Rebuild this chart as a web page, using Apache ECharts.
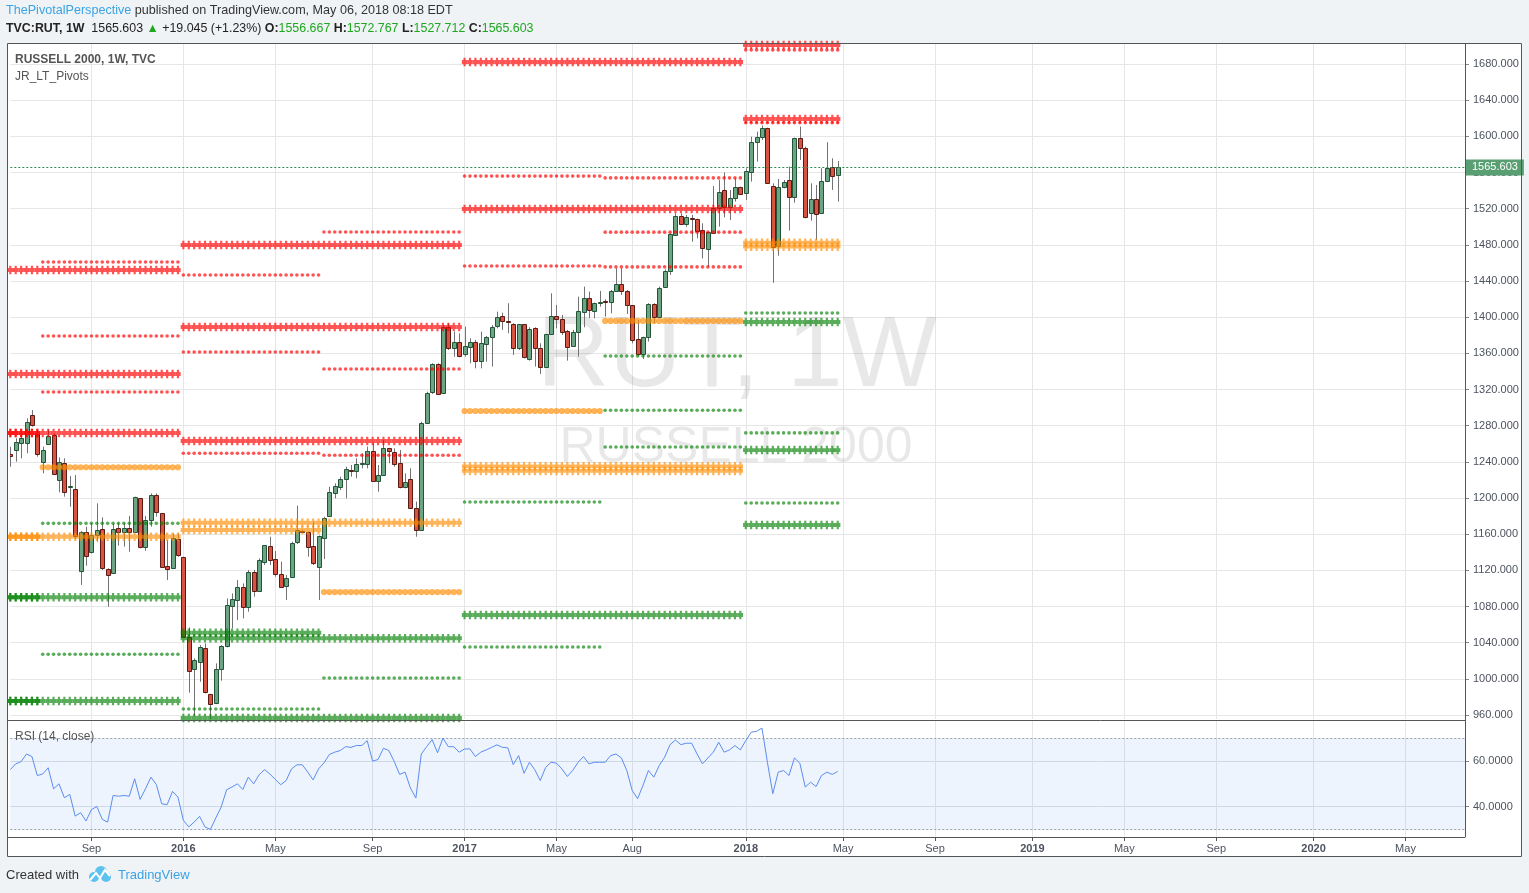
<!DOCTYPE html>
<html><head><meta charset="utf-8">
<script src="https://cdn.jsdelivr.net/npm/echarts@6/dist/echarts.min.js"></script>
<style>html,body{margin:0;padding:0;background:#f0f3f6;}#c{width:1529px;height:893px;}</style>
</head><body><div id="c"></div><script>
// ---------- DATA ----------
const firstWeek = '2015-05-25';
const totalWeeks = 270; // axis runs into mid-2020
const timeTicks = [['2015-09-07','Sep'],['2016-01-04','2016'],['2016-05-02','May'],['2016-09-05','Sep'],['2017-01-02','2017'],['2017-05-01','May'],['2017-08-07','Aug'],['2018-01-01','2018'],['2018-05-07','May'],['2018-09-03','Sep'],['2019-01-07','2019'],['2019-05-06','May'],['2019-09-02','Sep'],['2020-01-06','2020'],['2020-05-04','May']];
const priceTicks = [960,1000,1040,1080,1120,1160,1200,1240,1280,1320,1360,1400,1440,1480,1520,1560,1600,1640,1680];
const rsiTicks = [40,60];

const opens = [1248.6,1253.1,1260.5,1260.5,1291.8,1270.8,1239.4,1259.3,1269.3,1219.9,1238.3,1212.5,1209.6,1119.6,1162.0,1139.9,1158.7,1165.3,1121.8,1116.7,1166.4,1162.0,1166.4,1162.0,1199.6,1146.2,1175.3,1202.9,1183.0,1124.4,1122.2,1154.3,1134.4,1046.6,1010.5,1019.0,1033.7,982.8,972.9,1010.5,1036.7,1080.9,1087.2,1101.9,1079.8,1117.8,1097.5,1129.6,1146.9,1132.1,1115.6,1103.0,1113.0,1151.0,1163.8,1162.7,1146.9,1124.0,1155.4,1180.1,1205.9,1212.5,1220.7,1231.3,1230.2,1237.6,1237.6,1252.4,1219.2,1225.4,1254.9,1251.3,1239.1,1212.5,1220.7,1188.6,1164.6,1283.3,1317.6,1347.8,1315.8,1388.8,1365.5,1372.2,1358.9,1367.4,1372.2,1351.9,1370.0,1378.4,1390.2,1401.0,1395.4,1392.5,1365.6,1392.1,1353.4,1387.7,1365.6,1345.3,1381.1,1401.7,1397.6,1384.4,1368.5,1383.3,1406.1,1421.6,1407.2,1416.1,1417.6,1416.5,1429.4,1436.4,1429.4,1413.1,1375.5,1358.9,1378.5,1414.2,1400.6,1433.1,1451.4,1491.2,1511.9,1503.4,1510.0,1508.2,1496.0,1475.0,1493.4,1520.3,1540.3,1522.2,1531.4,1543.6,1536.9,1560.2,1593.4,1598.9,1608.9,1545.5,1479.1,1543.6,1551.4,1532.5,1597.8,1586.7,1514.9,1530.7,1514.9,1551.0,1565.7,1556.667];
const highs = [1256.8,1266.0,1271.5,1288.1,1297.3,1275.2,1256.8,1275.9,1271.5,1245.0,1243.9,1224.3,1225.4,1163.5,1168.3,1172.0,1194.1,1178.6,1122.2,1172.0,1172.0,1172.0,1180.1,1201.5,1200.0,1180.1,1205.1,1205.1,1183.5,1153.5,1160.9,1160.9,1135.1,1056.9,1022.7,1037.4,1039.2,983.5,1017.1,1037.4,1089.0,1094.5,1109.3,1105.6,1120.4,1120.4,1133.3,1148.0,1157.2,1141.4,1129.6,1114.8,1151.7,1191.5,1165.0,1163.0,1173.8,1158.5,1179.3,1212.5,1216.2,1223.6,1234.7,1236.5,1243.9,1249.4,1256.8,1261.2,1236.5,1264.2,1255.5,1254.9,1253.1,1227.3,1232.8,1196.0,1284.4,1317.6,1349.0,1349.0,1391.3,1393.2,1384.0,1382.1,1389.5,1376.6,1374.8,1384.0,1379.2,1391.3,1406.1,1405.0,1415.4,1393.2,1392.5,1392.5,1388.8,1388.8,1371.1,1381.5,1426.4,1413.5,1402.5,1385.9,1385.9,1422.7,1433.8,1428.3,1416.1,1429.0,1419.8,1430.1,1454.0,1454.0,1430.1,1413.5,1396.9,1378.5,1415.4,1415.4,1433.8,1453.0,1492.7,1514.8,1514.8,1513.0,1513.0,1508.9,1503.8,1494.5,1545.0,1551.7,1560.2,1540.6,1553.5,1544.3,1564.6,1599.6,1605.2,1612.0,1609.5,1548.0,1552.8,1551.7,1566.5,1598.5,1610.7,1588.6,1548.0,1546.2,1564.6,1593.4,1575.7,1572.767];
const lows = [1234.6,1240.2,1243.9,1249.4,1278.9,1245.7,1227.3,1258.6,1225.4,1206.3,1201.5,1190.4,1154.3,1103.8,1125.1,1138.8,1151.7,1120.3,1079.8,1116.0,1147.3,1146.2,1140.6,1161.6,1144.3,1141.7,1168.3,1179.3,1122.9,1109.3,1121.5,1135.1,1045.9,984.7,958.9,996.8,983.9,954.4,972.0,998.0,1034.8,1055.8,1065.1,1066.9,1074.3,1090.9,1097.0,1125.9,1125.9,1113.0,1101.5,1087.2,1112.2,1149.1,1162.0,1135.1,1125.9,1087.2,1132.5,1179.5,1199.6,1208.9,1199.6,1223.6,1221.8,1232.8,1232.8,1219.0,1207.0,1225.0,1238.4,1234.7,1210.7,1210.7,1188.0,1157.2,1163.9,1283.0,1315.0,1313.9,1315.5,1363.7,1356.3,1355.6,1356.3,1349.0,1343.4,1343.4,1350.8,1345.3,1387.7,1385.9,1382.2,1358.2,1363.7,1354.5,1351.9,1345.3,1337.2,1345.0,1380.3,1387.7,1380.3,1351.9,1367.4,1356.4,1388.8,1398.8,1398.8,1411.7,1400.6,1404.3,1429.0,1424.6,1403.6,1371.1,1356.4,1353.8,1373.0,1393.2,1400.0,1432.6,1446.6,1489.7,1501.9,1500.0,1483.5,1487.2,1465.0,1455.8,1493.0,1500.1,1510.4,1507.4,1527.7,1535.1,1529.6,1549.9,1572.0,1596.0,1547.3,1438.0,1468.0,1542.5,1495.7,1526.6,1573.8,1509.3,1506.7,1485.4,1514.1,1550.5,1540.7,1527.712];
const closes = [1246.8,1261.6,1266.0,1284.4,1280.7,1248.6,1253.1,1268.6,1226.2,1239.4,1207.0,1213.3,1158.0,1162.7,1136.2,1158.7,1164.2,1122.9,1114.5,1165.3,1162.7,1166.4,1162.0,1200.7,1146.2,1175.3,1202.9,1184.1,1124.0,1121.1,1155.4,1136.9,1046.6,1008.6,1020.4,1035.6,985.8,972.1,1010.5,1036.7,1082.0,1087.9,1101.9,1079.8,1117.8,1097.5,1131.4,1147.6,1131.4,1115.6,1101.9,1111.9,1150.6,1164.2,1163.5,1145.4,1127.7,1157.6,1177.9,1206.3,1213.3,1221.0,1231.7,1230.6,1237.2,1238.4,1252.4,1219.2,1225.1,1254.9,1252.4,1237.2,1212.5,1218.1,1188.6,1164.6,1282.6,1315.8,1347.8,1314.7,1388.8,1365.5,1372.2,1357.4,1368.1,1372.2,1351.9,1371.1,1378.4,1389.5,1400.6,1395.8,1394.7,1365.6,1392.1,1355.6,1386.6,1365.6,1345.3,1381.1,1401.0,1397.6,1383.3,1367.4,1383.3,1406.9,1421.6,1408.0,1415.4,1416.8,1416.8,1429.4,1436.4,1429.4,1413.5,1374.8,1358.9,1377.7,1414.2,1399.9,1431.9,1451.5,1492.0,1511.9,1503.0,1510.4,1509.7,1495.6,1476.1,1494.2,1520.3,1538.0,1522.2,1531.4,1543.6,1535.8,1561.6,1593.4,1598.9,1608.9,1548.0,1478.0,1544.3,1549.9,1533.3,1597.8,1586.7,1510.4,1530.7,1513.7,1550.2,1564.6,1556.5,1565.603];
const rsi = [56.2,58.7,59.7,63.0,61.9,53.6,54.3,57.0,47.8,50.0,
43.9,45.4,35.9,37.4,33.8,38.7,40.1,34.5,33.3,44.9,
44.6,44.9,44.6,52.2,43.2,47.8,52.9,49.7,41.3,40.9,
46.7,44.2,34.1,31.2,33.3,35.8,31.2,30.1,35.1,39.9,
47.4,48.6,50.0,47.5,52.9,50.0,53.9,56.2,54.3,51.9,
49.6,51.4,56.5,58.3,58.3,55.1,51.7,56.5,59.1,62.8,
63.8,64.5,66.2,65.9,66.7,66.7,68.8,59.9,60.6,65.5,
64.5,59.7,54.1,55.1,48.1,43.8,63.0,66.2,69.3,63.5,
69.9,66.2,66.2,63.8,65.2,65.2,61.9,63.8,64.8,65.9,
67.0,65.9,65.7,58.4,62.3,54.6,59.4,56.1,51.4,57.2,
59.4,59.0,56.5,53.2,55.8,59.4,61.9,58.7,59.4,59.4,
59.4,62.3,63.0,61.3,55.8,47.1,43.5,49.3,55.8,52.9,
58.0,61.6,67.1,69.1,67.1,67.7,67.7,63.0,58.7,61.3,
63.8,68.1,63.8,64.8,66.7,64.8,68.8,72.5,72.9,74.3,
59.4,45.7,55.1,55.8,53.6,61.3,59.0,48.6,50.7,48.8,
53.6,55.1,54.1,55.4];
const lastPrice = 1565.603;

// yearly pivots
const yearlyPeriods = [['2015-05-25','2015-12-28'],['2016-01-04','2016-12-26'],['2017-01-02','2017-12-25'],['2018-01-01','2018-04-30']];
const yearlyR = [[1452.2,1337.2,1271.9],[1479.8,1389.1,1263.0],[1682.2,1519.6],[1701.0,1619.2]];
const yearlyP = [[1157.2],[1172.7],[1235.0,1230.0],[1478.0]];
const yearlyS = [[1090.2,975.5],[1044.9,956.7],[1070.6],[1394.7,1253.0,1170.2]];
// semiannual pivots
const semiPeriods = [['2015-07-06','2015-12-28'],['2016-01-04','2016-06-27'],['2016-07-04','2016-12-26'],['2017-01-02','2017-06-26'],['2017-07-03','2017-12-25'],['2018-01-01','2018-04-30']];
const semiR = [[1461.0,1379.2,1317.2],[1446.6,1361.5,1249.5],[1494.2,1342.7,1247.3],[1556.0,1456.6],[1554.0,1494.0,1455.6],[1695.5,1615.0]];
const semiP = [[1234.0],[],[1096.0],[1296.2],[1395.8],[]];
const semiS = [[1172.0,1027.2],[966.7],[1001.0],[1195.6,1035.2],[1357.0,1297.0,1256.4],[1404.6,1272.0,1194.5]];
// half-year levels drawn heavy
const heavyPeriods = [['2015-05-25','2015-06-29'],['2016-01-04','2016-06-27'],['2018-01-01','2018-04-30']];
const heavyR = [[1271.9],[],[]];
const heavyP = [[1157.2],[1164.6],[1482.4]];
const heavyS = [[1090.2,975.5],[1051.0],[]];

// ---------- BUILD ----------
const categories = [];
{
  const t0 = Date.parse(firstWeek + 'T00:00:00Z');
  for (let k = 0; k < totalWeeks; k++) categories.push(new Date(t0 + k * 7 * 86400000).toISOString().slice(0, 10));
}
const tickMap = new Map(timeTicks);
const isTick = (idx, val) => tickMap.has(val);

const RED = 'rgba(255,0,0,0.68)', ORANGE = 'rgba(255,140,0,0.66)', GREEN = 'rgba(0,128,0,0.65)';
const CROSS = 'path://M30,0H70V27H100V73H70V100H30V73H0V27H30Z';
const CROSS_SIZE = [5.4, 8.5];
const series = [];

series.push({
  type: 'custom', xAxisIndex: 0, yAxisIndex: 0, clip: true, z: 3, silent: true, animation: false,
  data: opens.map((o, i) => [i, o, closes[i], lows[i], highs[i]]),
  encode: { x: 0, y: [1, 2, 3, 4] },
  renderItem: function (params, api) {
    const i = api.value(0), o = api.value(1), c = api.value(2), l = api.value(3), h = api.value(4);
    const po = api.coord([i, o]), pc = api.coord([i, c]), pl = api.coord([i, l]), ph = api.coord([i, h]);
    const x = Math.round(po[0]);
    const up = c >= o;
    let top = Math.round(Math.min(po[1], pc[1])), bot = Math.round(Math.max(po[1], pc[1]));
    if (bot - top < 1) bot = top + 1;
    return { type: 'group', children: [
      { type: 'line', shape: { x1: x + 0.5, y1: ph[1], x2: x + 0.5, y2: pl[1] }, style: { stroke: '#737375', lineWidth: 1 } },
      { type: 'rect', shape: { x: x - 1.5, y: top + 0.5, width: 4, height: bot - top }, style: { fill: up ? '#6ba583' : '#d75442', stroke: up ? '#225437' : '#5b1a13', lineWidth: 1 } }
    ] };
  }
});

function addLevel(period, value, color, symbol, size) {
  const a = categories.indexOf(period[0]), b = categories.indexOf(period[1]);
  const data = [];
  for (let k = a; k <= b; k++) data.push([k, value]);
  series.push({ type: 'scatter', xAxisIndex: 0, yAxisIndex: 0, data, symbol, symbolSize: size,
    itemStyle: { color: color, opacity: 1 }, silent: true, animation: false, z: 4, emphasis: { disabled: true } });
}
function addGroup(periods, R, P, S, heavy) {
  periods.forEach((per, k) => {
    R[k].forEach(v => addLevel(per, v, RED, heavy ? CROSS : 'circle', heavy ? CROSS_SIZE : 3.6));
    P[k].forEach(v => addLevel(per, v, ORANGE, heavy ? CROSS : 'circle', heavy ? CROSS_SIZE : 6.2));
    S[k].forEach(v => addLevel(per, v, GREEN, heavy ? CROSS : 'circle', heavy ? CROSS_SIZE : 3.6));
  });
}
addGroup(yearlyPeriods, yearlyR, yearlyP, yearlyS, true);
addGroup(heavyPeriods, heavyR, heavyP, heavyS, true);
addGroup(semiPeriods, semiR, semiP, semiS, false);

// last price line
series.push({ type: 'scatter', xAxisIndex: 0, yAxisIndex: 0, data: [[153, lastPrice]], symbolSize: 0, silent: true, animation: false, z: 6,
  markLine: { silent: true, symbol: 'none', animation: false,
    lineStyle: { color: '#2f8a50', type: [2, 2], width: 1 },
    label: { show: true, position: 'end', formatter: lastPrice.toFixed(3), backgroundColor: '#5a9f72', color: '#fff', padding: [3, 6, 2, 6], fontSize: 11, fontFamily: 'Liberation Sans', distance: 1 },
    data: [{ yAxis: lastPrice }] } });

// RSI
series.push({ type: 'line', xAxisIndex: 1, yAxisIndex: 1, data: rsi, showSymbol: false, animation: false, silent: true,
  lineStyle: { color: '#5b8def', width: 1 }, z: 5,
  markArea: { silent: true, itemStyle: { color: 'rgba(40,110,230,0.08)' }, data: [[{ yAxis: 30 }, { yAxis: 70 }]] },
  markLine: { silent: true, symbol: 'none', animation: false, label: { show: false },
    lineStyle: { color: '#9aa0aa', type: [2, 2], width: 1 }, data: [{ yAxis: 70 }, { yAxis: 30 }] } });

const GRIDC = '#e6e6e6';
const labelFmt = v => { const t = tickMap.get(v) || ''; return /^\d{4}$/.test(t) ? '{y|' + t + '}' : t; };
const xBase = (show) => ({
  type: 'category', data: categories, boundaryGap: false,
  axisLine: { show: show, lineStyle: { color: '#555' } },
  axisTick: { show: show, interval: isTick, length: 4, lineStyle: { color: '#555' } },
  axisLabel: { show: show, interval: isTick, formatter: labelFmt, color: '#4c525e', fontSize: 11, fontFamily: 'Liberation Sans', margin: 6,
    rich: { y: { fontWeight: 'bold', color: '#4c525e', fontSize: 11, fontFamily: 'Liberation Sans' } } },
  splitLine: { show: true, interval: isTick, lineStyle: { color: GRIDC, width: 1 } }
});

const HF = 'Liberation Sans';
const option = {
  backgroundColor: '#f0f3f6',
  animation: false,
  grid: [
    { left: 10.3, right: 64, top: 43, height: 676 },
    { left: 10.3, right: 64, top: 721, height: 116 }
  ],
  xAxis: [Object.assign(xBase(false), { gridIndex: 0 }), Object.assign(xBase(true), { gridIndex: 1 })],
  yAxis: [
    { gridIndex: 0, type: 'value', position: 'right', min: 955.6, max: 1703.2,
      axisLine: { show: false },
      axisTick: { show: true, customValues: priceTicks, length: 4, lineStyle: { color: '#888' } },
      axisLabel: { customValues: priceTicks, formatter: v => v.toFixed(3), color: '#4c525e', fontSize: 11, fontFamily: 'Liberation Sans', margin: 8 },
      splitLine: { show: true, lineStyle: { color: GRIDC } } },
    { gridIndex: 1, type: 'value', position: 'right', min: 26.8, max: 77.4,
      axisLine: { show: false },
      axisTick: { show: true, customValues: rsiTicks, length: 4, lineStyle: { color: '#888' } },
      axisLabel: { customValues: rsiTicks, formatter: v => v.toFixed(4), color: '#4c525e', fontSize: 11, fontFamily: 'Liberation Sans', margin: 8 },
      splitLine: { show: true, lineStyle: { color: '#dde1e8' } } }
  ],
  series: series,
  graphic: [
    { type: 'rect', z: -10, shape: { x: 7, y: 43, width: 1515, height: 814 }, style: { fill: '#fff' } },
    { type: 'text', z: 1, style: { x: 737, y: 358, text: 'RUT, 1W', fontSize: 100, fontFamily: 'Liberation Sans', fill: 'rgba(0,0,0,0.09)', align: 'center', verticalAlign: 'middle' } },
    { type: 'text', z: 1, style: { x: 736, y: 448, text: 'RUSSELL 2000', fontSize: 50, fontFamily: 'Liberation Sans', fill: 'rgba(0,0,0,0.09)', align: 'center', verticalAlign: 'middle' } },
    // frame
    { type: 'rect', z: 100, shape: { x: 7.5, y: 43.5, width: 1514, height: 813 }, style: { fill: null, stroke: '#555', lineWidth: 1 } },
    { type: 'line', z: 100, shape: { x1: 1465.5, y1: 43, x2: 1465.5, y2: 837 }, style: { stroke: '#555', lineWidth: 1 } },
    { type: 'line', z: 100, shape: { x1: 7, y1: 720.5, x2: 1465, y2: 720.5 }, style: { stroke: '#555', lineWidth: 1 } },
    { type: 'line', z: 100, shape: { x1: 7, y1: 837.5, x2: 1465, y2: 837.5 }, style: { stroke: '#555', lineWidth: 1 } },
    // pane texts
    { type: 'text', z: 50, style: { x: 15, y: 60, text: 'RUSSELL 2000, 1W, TVC', fontSize: 12, fontWeight: 'bold', fontFamily: HF, fill: '#555', verticalAlign: 'middle' } },
    { type: 'text', z: 50, style: { x: 15, y: 77, text: 'JR_LT_Pivots', fontSize: 12, fontFamily: HF, fill: '#555', verticalAlign: 'middle' } },
    { type: 'text', z: 50, style: { x: 15, y: 737, text: 'RSI (14, close)', fontSize: 12, fontFamily: HF, fill: '#555', verticalAlign: 'middle' } },
    // header
    { type: 'text', z: 50, style: { x: 6, y: 11, verticalAlign: 'middle',
      text: '{a|ThePivotalPerspective}{b| published on TradingView.com, May 06, 2018 08:18 EDT}',
      rich: { a: { fontSize: 12.6, fontFamily: HF, fill: '#3aa3e3' }, b: { fontSize: 12.6, fontFamily: HF, fill: '#333' } } } },
    { type: 'text', z: 50, style: { x: 6, y: 29, verticalAlign: 'middle',
      text: '{k|TVC:RUT, 1W}{n|  1565.603 }{g|▲}{n| +19.045 (+1.23%) }{k|O:}{g|1556.667}{k| H:}{g|1572.767}{k| L:}{g|1527.712}{k| C:}{g|1565.603}',
      rich: { k: { fontSize: 12.4, fontWeight: 'bold', fontFamily: HF, fill: '#222' },
              n: { fontSize: 12.4, fontFamily: HF, fill: '#222' },
              g: { fontSize: 12.4, fontFamily: HF, fill: '#1ea81e' } } } },
    // footer
    { type: 'text', z: 50, style: { x: 6, y: 875, text: 'Created with', fontSize: 13, fontFamily: HF, fill: '#333', verticalAlign: 'middle' } },
    { type: 'circle', z: 50, shape: { cx: 94, cy: 877, r: 5 }, style: { fill: '#5ec2ee' } },
    { type: 'circle', z: 50, shape: { cx: 101, cy: 872, r: 6 }, style: { fill: '#5ec2ee' } },
    { type: 'circle', z: 50, shape: { cx: 106, cy: 877, r: 5 }, style: { fill: '#5ec2ee' } },
    { type: 'polyline', z: 51, shape: { points: [[90, 880], [96, 873], [100, 878], [105, 870], [110, 876]] }, style: { stroke: '#fff', lineWidth: 2, fill: null } },
    { type: 'text', z: 50, style: { x: 118, y: 875, text: 'TradingView', fontSize: 13, fontFamily: HF, fill: '#3aa3e3', verticalAlign: 'middle' } }
  ]
};
const chart = echarts.init(document.getElementById('c'), null, { renderer: 'canvas' });
chart.setOption(option);
</script></body></html>
